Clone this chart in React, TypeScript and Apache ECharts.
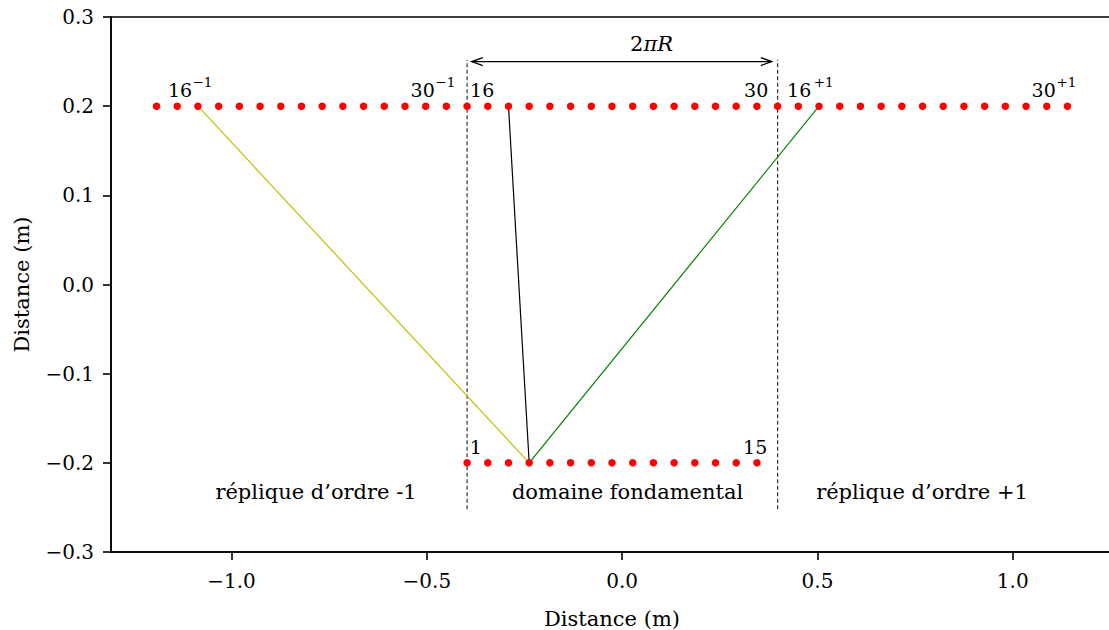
import React, { useEffect, useRef } from "react";
import * as echarts from "echarts";

const FONT = "DejaVu Serif";

// Point positions (m)
const fundamentalX = [-0.397, -0.344, -0.291, -0.238, -0.185, -0.132, -0.079, -0.026, 0.027, 0.08, 0.133, 0.186, 0.239, 0.292, 0.345];
const replicaMinusX = [-1.192, -1.139, -1.086, -1.033, -0.98, -0.927, -0.874, -0.821, -0.768, -0.715, -0.662, -0.609, -0.556, -0.503, -0.45];
const replicaPlusX = [0.398, 0.451, 0.504, 0.557, 0.61, 0.663, 0.716, 0.769, 0.822, 0.875, 0.928, 0.981, 1.034, 1.087, 1.14];
const topRowY = 0.2;
const bottomRowY = -0.2;

// Links from bottom point 4 to top point 16 and its replicas
const linkSource = [-0.238, -0.2];
const linkTargetMinus = [-1.086, 0.2];
const linkTargetBase = [-0.291, 0.2];
const linkTargetPlus = [0.504, 0.2];

// Domain boundaries
const domainLeft = -0.397;
const domainRight = 0.398;
const domainYRange = [-0.252, 0.252];

// Arrow 2πR
const arrowY = 0.25;
const arrowX = [-0.385, 0.383];
const arrowLabel = { x: 0.0753, y: 0.2692 };

// Point labels (text origin in data coords)
const pointLabels = [
  { main: "16", x: -1.1626, y: 0.2181, sup: "−1", supX: -1.0999, supY: 0.2271 },
  { main: "30", x: -0.5417, y: 0.2181, sup: "−1", supX: -0.4782, supY: 0.2271 },
  { main: "16", x: -0.3894, y: 0.2181, sup: "", supX: 0, supY: 0 },
  { main: "30", x: 0.3121, y: 0.2181, sup: "", supX: 0, supY: 0 },
  { main: "16", x: 0.4222, y: 0.2181, sup: "+1", supX: 0.4905, supY: 0.2271 },
  { main: "30", x: 1.0481, y: 0.2181, sup: "+1", supX: 1.1121, supY: 0.2271 },
  { main: "1", x: -0.3902, y: -0.1819, sup: "", supX: 0, supY: 0 },
  { main: "15", x: 0.3095, y: -0.1819, sup: "", supX: 0, supY: 0 },
];

const regionLabels = ["réplique d’ordre -1", "domaine fondamental", "réplique d’ordre +1"];
const regionLabelX = [-0.7837, 0.0138, 0.7677];
const regionLabelY = -0.2327;

const xTicks = [-1.0, -0.5, 0.0, 0.5, 1.0];
const xMin = -1.3086;
const xMax = 1.2566;
const yMin = -0.3;
const yMax = 0.3;

const fmt = (v: number) => {
  const r = Math.round(v * 10) / 10;
  const s = Math.abs(r).toFixed(1);
  return r < 0 ? "−" + s : s;
};

export default function App() {
  const ref = useRef<HTMLDivElement>(null);

  useEffect(() => {
    if (!ref.current) return;
    const chart = echarts.init(ref.current, null, { renderer: "svg" });

    const topRow = [...replicaMinusX, ...fundamentalX, ...replicaPlusX].map((x) => [x, topRowY]);
    const bottomRow = fundamentalX.map((x) => [x, bottomRowY]);

    const axisLineStyle = { color: "#000", width: 1.6 };

    const option: any = {
      animation: false,
      backgroundColor: "#fff",
      grid: {
        left: 111,
        top: 17,
        width: 1002,
        height: 535,
        show: true,
        borderColor: "#000",
        borderWidth: 1.6,
        backgroundColor: "transparent",
        containLabel: false,
        outerBoundsMode: "none",
      },
      xAxis: {
        type: "value",
        min: xMin,
        max: xMax,
        name: "Distance (m)",
        nameLocation: "middle",
        nameGap: 56,
        nameTextStyle: { fontFamily: FONT, fontSize: 21, color: "#000" },
        axisLine: { show: true, onZero: false, lineStyle: axisLineStyle },
        axisTick: { show: true, length: 8, customValues: xTicks, lineStyle: axisLineStyle },
        axisLabel: {
          customValues: xTicks,
          formatter: (v: number) => fmt(v),
          fontFamily: FONT,
          fontSize: 20,
          color: "#000",
          margin: 19,
        },
        splitLine: { show: false },
      },
      yAxis: {
        type: "value",
        min: yMin,
        max: yMax,
        interval: 0.1,
        name: "Distance (m)",
        nameLocation: "middle",
        nameGap: 79,
        nameTextStyle: { fontFamily: FONT, fontSize: 21, color: "#000" },
        axisLine: { show: true, onZero: false, lineStyle: axisLineStyle },
        axisTick: { show: true, length: 8, lineStyle: axisLineStyle },
        axisLabel: {
          formatter: (v: number) => fmt(v),
          fontFamily: FONT,
          fontSize: 20,
          color: "#000",
          margin: 17,
        },
        splitLine: { show: false },
      },
      series: [
        {
          type: "line",
          data: [[domainLeft, domainYRange[0]], [domainLeft, domainYRange[1]]],
          symbol: "none",
          lineStyle: { color: "#333", width: 1.2, type: [4, 2.5] },
          z: 1,
        },
        {
          type: "line",
          data: [[domainRight, domainYRange[0]], [domainRight, domainYRange[1]]],
          symbol: "none",
          lineStyle: { color: "#333", width: 1.2, type: [4, 2.5] },
          z: 1,
        },
        {
          type: "line",
          data: [linkSource, linkTargetMinus],
          symbol: "none",
          lineStyle: { color: "#bfbf00", width: 1.2 },
          z: 2,
        },
        {
          type: "line",
          data: [linkSource, linkTargetBase],
          symbol: "none",
          lineStyle: { color: "#000", width: 1.2 },
          z: 2,
        },
        {
          type: "line",
          data: [linkSource, linkTargetPlus],
          symbol: "none",
          lineStyle: { color: "#008000", width: 1.2 },
          z: 2,
        },
        {
          type: "scatter",
          data: topRow,
          symbol: "circle",
          symbolSize: 7.5,
          itemStyle: { color: "#ff0000", opacity: 1 },
          z: 3,
        },
        {
          type: "scatter",
          data: bottomRow,
          symbol: "circle",
          symbolSize: 7.5,
          itemStyle: { color: "#ff0000", opacity: 1 },
          z: 3,
        },
        {
          type: "custom",
          data: [[arrowX[0], arrowY, arrowX[1]]],
          z: 4,
          renderItem: (params: any, api: any) => {
            const a = api.coord([arrowX[0], arrowY]);
            const b = api.coord([arrowX[1], arrowY]);
            const t = api.coord([arrowLabel.x, arrowLabel.y]);
            const st = { stroke: "#000", lineWidth: 1.3, fill: "none" };
            return {
              type: "group",
              children: [
                { type: "line", shape: { x1: a[0], y1: a[1], x2: b[0], y2: b[1] }, style: st },
                { type: "polyline", shape: { points: [[a[0] + 11, a[1] - 4], [a[0], a[1]], [a[0] + 11, a[1] + 4]] }, style: st },
                { type: "polyline", shape: { points: [[b[0] - 11, b[1] - 4], [b[0], b[1]], [b[0] - 11, b[1] + 4]] }, style: st },
                {
                  type: "text",
                  x: t[0],
                  y: t[1],
                  style: {
                    text: "{u|2}{i|πR}",
                    align: "center",
                    verticalAlign: "middle",
                    fill: "#000",
                    rich: {
                      u: { fontFamily: FONT, fontSize: 21, fill: "#000" },
                      i: { fontFamily: FONT, fontSize: 21, fontStyle: "italic", fill: "#000" },
                    },
                  },
                },
              ],
            };
          },
        },
        {
          type: "custom",
          data: pointLabels.map((l) => [l.x, l.y]),
          z: 4,
          renderItem: (params: any, api: any) => {
            const l = pointLabels[params.dataIndex];
            const p = api.coord([l.x, l.y]);
            const children: any[] = [
              {
                type: "text",
                x: p[0],
                y: p[1],
                style: { text: l.main, fontFamily: FONT, fontSize: 19, fill: "#000", align: "left", verticalAlign: "middle" },
              },
            ];
            if (l.sup) {
              const q = api.coord([l.supX, l.supY]);
              children.push({
                type: "text",
                x: q[0],
                y: q[1],
                style: { text: l.sup, fontFamily: FONT, fontSize: 13.5, fill: "#000", align: "left", verticalAlign: "middle" },
              });
            }
            return { type: "group", children };
          },
        },
        {
          type: "custom",
          data: regionLabelX.map((x) => [x, regionLabelY]),
          z: 4,
          renderItem: (params: any, api: any) => {
            const p = api.coord([regionLabelX[params.dataIndex], regionLabelY]);
            return {
              type: "text",
              x: p[0],
              y: p[1],
              style: {
                text: regionLabels[params.dataIndex],
                fontFamily: FONT,
                fontSize: 21,
                fill: "#000",
                align: "center",
                verticalAlign: "middle",
              },
            };
          },
        },
      ],
    };

    chart.setOption(option);
    return () => chart.dispose();
  }, []);

  return (
    <div
      ref={ref}
      style={{ position: "absolute", left: 0, top: 0, width: 1109, height: 630, background: "#fff" }}
    />
  );
}
